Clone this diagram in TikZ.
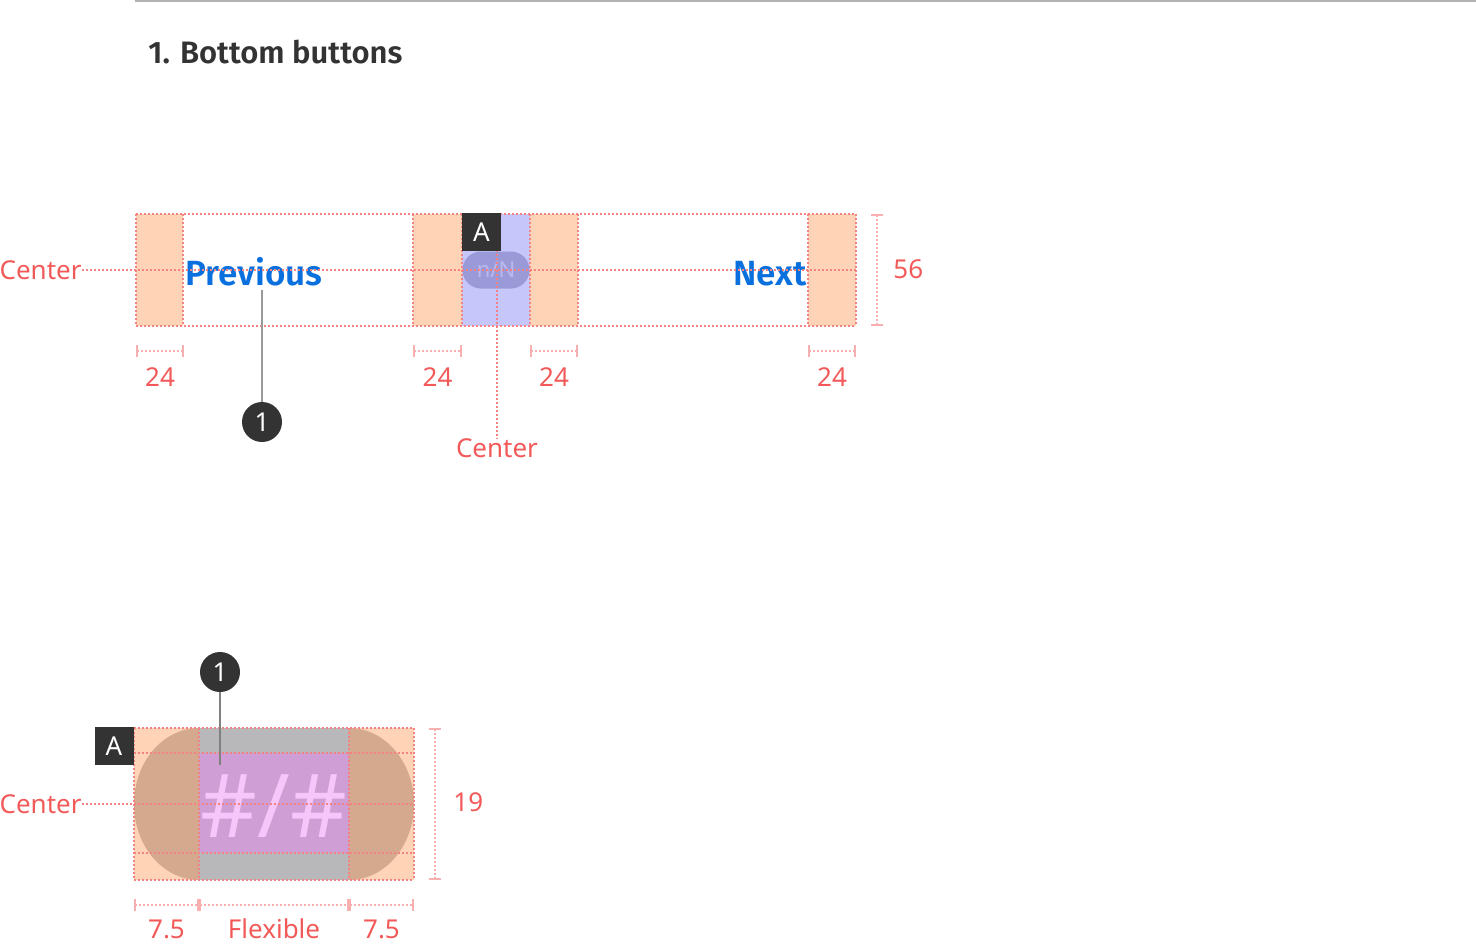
\documentclass[tikz,border=0pt]{standalone}
\usepackage{fontspec}
\setmainfont{Noto Sans}
\newfontfamily\semib{Fira Sans SemiBold}
\usetikzlibrary{arrows.meta,positioning}

\definecolor{guidec}{RGB}{245,130,130}
\definecolor{dimc}{RGB}{249,175,175}
\definecolor{redtxt}{RGB}{242,90,90}
\definecolor{orangec}{RGB}{254,211,182}
\definecolor{bluefill}{RGB}{198,198,250}
\definecolor{pillc}{RGB}{154,154,216}
\definecolor{pilltxt}{RGB}{186,186,240}
\definecolor{btnblue}{RGB}{10,112,222}
\definecolor{brownc}{RGB}{212,169,142}
\definecolor{grayc}{RGB}{184,184,186}
\definecolor{purpc}{RGB}{207,158,213}
\definecolor{pinkc}{RGB}{246,198,250}
\definecolor{darkc}{RGB}{51,51,51}

\begin{document}
\begin{tikzpicture}[x=0.5pt,y=-0.5pt,
	guide/.style={draw=guidec,line width=0.8pt,dash pattern=on 1pt off 1pt},
	dimline/.style={draw=dimc,line width=0.8pt,dash pattern=on 1pt off 1pt,{Bar[width=6pt,line width=0.8pt]}-{Bar[width=6pt,line width=0.8pt]}},
	lbl/.style={text=redtxt,inner sep=0pt,font=\fontsize{13}{15}\selectfont},
	badge/.style={fill=darkc,text=white,minimum width=19.5pt,minimum height=19pt,inner sep=0pt,font=\fontsize{13}{15}\selectfont},
	callout/.style={circle,fill=darkc,text=white,minimum size=20pt,inner sep=0pt,font=\fontsize{13}{15}\selectfont},
	btn/.style={text=btnblue,inner sep=0pt,font=\fontsize{17.5}{19}\semib}
]
\useasboundingbox (0,0) rectangle (1476,944);
\draw[black!30,line width=1pt] (135,1) -- (1476,1);
\node[anchor=base west,inner sep=0pt,text=darkc,font=\fontsize{15.5}{18}\semib] (title) at (148,63) {1. Bottom buttons};

% top bar
\foreach \a/\b in {136/183,413/462,530/578,808/856}
	\fill[orangec] (\a,214) rectangle (\b,326);
\fill[bluefill] (462,214) rectangle (530,326);
\node[fill=pillc,rounded corners=9.25pt,minimum width=33.5pt,minimum height=18.5pt,inner sep=0pt,text=pilltxt,font=\fontsize{11}{13}\selectfont] (pg) at (496,270) {n/N};
\node[btn,anchor=base west] (prev) at (185,285) {Previous};
\node[btn,anchor=base east] (next) at (807,285) {Next};
\foreach \a in {136,183,413,462,530,578,808,856}
	\draw[guide] (\a,214) -- (\a,326);
\draw[guide] (136,214) -- (856,214) (136,326) -- (856,326);
\node[lbl,anchor=east] (cl1) at (82,270) {Center};
\draw[guide] (cl1.east) -- ++(4,0) -- (856,270);
\node[lbl] (cb) at (497,448) {Center};
\draw[guide] (497,214) -- (cb.north);
\node[badge] (a1) at (481.5,232) {A};

\coordinate (p1) at (262,290);
\node[callout] (c1) at (262,422) {1};
\draw[black!40,line width=1pt] (p1) -- (c1);

\foreach \a/\b in {136/184,413/462,530/578,808/856} {
	\draw[dimline] (\a,351) -- (\b,351);
	\node[lbl] at ({(\a+\b)/2},377) {24};
}
\coordinate (t1) at (877,214);
\coordinate (t2) at (877,326);
\draw[dimline] (t1) -- (t2);
\node[lbl,anchor=west] (h1) at (893,269) {56};

% bottom indicator
\fill[orangec] (134,728) rectangle (414,880);
\fill[brownc] (199,804) ellipse [x radius=65,y radius=76];
\fill[brownc] (349,804) ellipse [x radius=65,y radius=76];
\fill[grayc] (199,728) rectangle (349,880);
\fill[purpc] (199,753) rectangle (349,853);
\node[text=pinkc,inner sep=0pt,font=\fontsize{44}{48}\selectfont] (pn) at (274,806) {\#/\#};
\foreach \y in {728,753,853,880}
	\draw[guide] (134,\y) -- (414,\y);
\foreach \a in {134,199,349,414}
	\draw[guide] (\a,728) -- (\a,880);
\node[lbl,anchor=east] (cl2) at (82,804) {Center};
\draw[guide] (cl2.east) -- ++(4,0) -- (414,804);
\node[badge] (a2) at (114,746) {A};

\coordinate (p2) at (220,765);
\node[callout] (c2) at (220,672) {1};
\draw[black!50,line width=1pt] (c2) -- (p2);

\foreach \a/\b/\t in {134/199/7.5,199/349/Flexible,349/414/7.5} {
	\draw[dimline] (\a,905) -- (\b,905);
	\node[lbl] at ({(\a+\b)/2},929) {\t};
}
\coordinate (t3) at (435,728);
\coordinate (t4) at (435,880);
\draw[dimline] (t3) -- (t4);
\node[lbl,anchor=west] (h2) at (453,802) {19};
\end{tikzpicture}
\end{document}
